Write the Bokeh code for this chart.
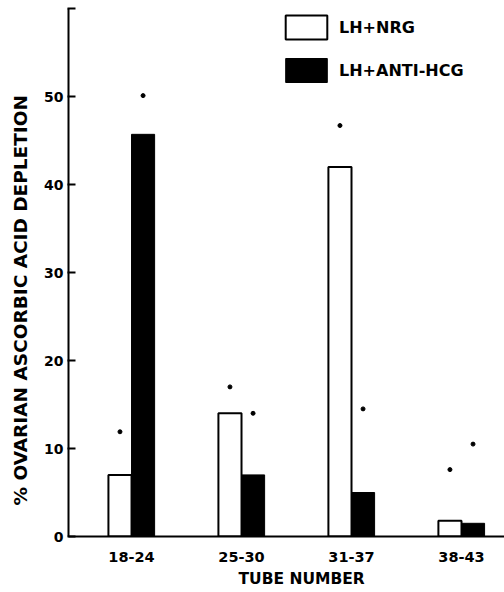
from bokeh.plotting import figure
from bokeh.models import ColumnDataSource, FixedTicker, Legend, LegendItem, Range1d, Title
from bokeh.embed import file_html
from bokeh.resources import INLINE

# ---- data ----
groups = ["18-24", "25-30", "31-37", "38-43"]
nrg = [7.0, 14.0, 42.0, 1.8]          # LH+NRG (white bars)
anti_hcg = [45.7, 7.0, 5.0, 1.5]      # LH+ANTI-HCG (black bars)
nrg_err = [11.9, 17.0, 46.7, 7.6]     # dots above white bars
anti_err = [50.1, 14.0, 14.5, 10.5]   # dots above black bars
y_ticks = [0, 10, 20, 30, 40, 50, 60]
y_tick_labels = ["0", "10", "20", "30", "40", "50", ""]
x_title = "TUBE NUMBER"
y_title = "% OVARIAN ASCORBIC ACID DEPLETION"

pos = [i + 1 for i in range(len(groups))]
bw = 0.21
x_white = [p_ - bw / 2 for p_ in pos]
x_black = [p_ + bw / 2 for p_ in pos]

src_w = ColumnDataSource(dict(x=x_white, top=nrg, err=nrg_err))
src_b = ColumnDataSource(dict(x=x_black, top=anti_hcg, err=anti_err))

p = figure(width=504, height=592, output_backend="svg", toolbar_location=None,
           x_range=Range1d(0.427, 4.391), y_range=Range1d(0, 60),
           min_border_left=68, min_border_right=0, min_border_top=8,
           min_border_bottom=56)
p.outline_line_color = None
p.xgrid.visible = False
p.ygrid.visible = False
p.background_fill_color = "white"

rw = p.vbar(x="x", top="top", width=bw, source=src_w, fill_color="white",
            line_color="black", line_width=2)
rb = p.vbar(x="x", top="top", width=bw, source=src_b, fill_color="black",
            line_color="black", line_width=1)
p.scatter(x="x", y="err", source=src_w, size=4, color="black")
p.scatter(x="x", y="err", source=src_b, size=4, color="black")

# axes
p.xaxis.ticker = FixedTicker(ticks=pos)
p.xaxis.major_label_overrides = {pos[i]: groups[i] for i in range(len(groups))}
p.xaxis.major_tick_in = 0
p.xaxis.major_tick_out = 0
p.xaxis.minor_tick_line_color = None
p.xaxis.axis_line_width = 2
p.xaxis.major_label_standoff = 15
p.xaxis.major_label_text_font = "DejaVu Sans"
p.xaxis.major_label_text_font_style = "bold"
p.xaxis.major_label_text_font_size = "14.5px"
p.xaxis.major_label_text_color = "black"

p.yaxis.ticker = FixedTicker(ticks=y_ticks)
p.yaxis.major_label_overrides = {y_ticks[i]: y_tick_labels[i] for i in range(len(y_ticks))}
p.yaxis.major_tick_in = 7
p.yaxis.major_tick_out = 1
p.yaxis.major_tick_line_width = 2
p.yaxis.minor_tick_line_color = None
p.yaxis.axis_line_width = 2
p.yaxis.major_label_standoff = 4
p.yaxis.major_label_text_font = "DejaVu Sans"
p.yaxis.major_label_text_font_style = "bold"
p.yaxis.major_label_text_font_size = "14px"
p.yaxis.major_label_text_color = "black"

# axis titles (offset like the original lettering)
p.add_layout(Title(text=y_title, align="left", offset=31, standoff=17,
                   vertical_align="top",
                   text_font="DejaVu Sans", text_font_style="bold",
                   text_font_size="18.5px", text_color="black"), "left")
p.add_layout(Title(text=x_title, align="left", offset=170, standoff=7,
                   text_font="DejaVu Sans", text_font_style="bold",
                   text_font_size="15.5px", text_color="black"), "below")

legend = Legend(items=[LegendItem(label="LH+NRG", renderers=[rw]),
                       LegendItem(label="LH+ANTI-HCG", renderers=[rb])],
                location=(212, 451), orientation="vertical",
                glyph_width=52, glyph_height=30, spacing=13, padding=0,
                margin=0, label_standoff=7,
                border_line_color=None, background_fill_alpha=0,
                label_text_font="DejaVu Sans", label_text_font_style="bold",
                label_text_font_size="16px", label_text_color="black")
p.add_layout(legend)

open("out.html", "w").write(file_html(p, INLINE))
